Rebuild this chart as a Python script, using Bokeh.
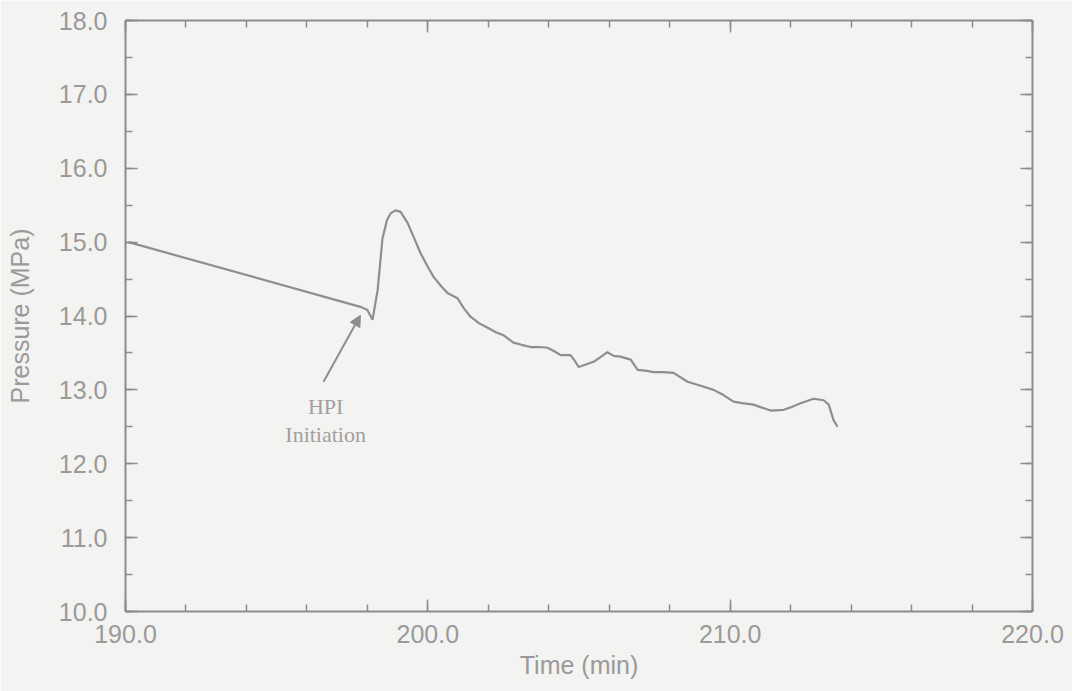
from bokeh.plotting import figure
from bokeh.models import (LinearAxis, FixedTicker, PrintfTickFormatter, Range1d,
                          Arrow, NormalHead, Label)
from bokeh.embed import file_html
from bokeh.resources import INLINE

# Data
time_min = [190.1, 197.8, 198.0, 198.17, 198.34, 198.50, 198.65, 198.77, 198.93,
            199.10, 199.33, 199.55, 199.76, 199.98, 200.19, 200.45, 200.65, 200.98,
            201.20, 201.41, 201.70, 201.98, 202.25, 202.50, 202.83, 203.10, 203.40,
            203.70, 203.96, 204.20, 204.39, 204.72, 204.85, 204.99, 205.20, 205.48,
            205.70, 205.94, 206.15, 206.37, 206.71, 206.94, 207.20, 207.47, 207.80,
            208.13, 208.59, 209.00, 209.45, 209.78, 210.11, 210.40, 210.77, 211.05,
            211.34, 211.77, 212.05, 212.33, 212.76, 213.09, 213.26, 213.42, 213.55]
pressure_mpa = [15.00, 14.12, 14.08, 13.95, 14.35, 15.05, 15.30, 15.39, 15.43,
                15.41, 15.26, 15.05, 14.85, 14.68, 14.53, 14.40, 14.31, 14.24,
                14.10, 13.99, 13.90, 13.84, 13.78, 13.74, 13.64, 13.61, 13.58,
                13.58, 13.57, 13.52, 13.47, 13.47, 13.40, 13.31, 13.34, 13.38,
                13.44, 13.51, 13.46, 13.45, 13.41, 13.27, 13.26, 13.24, 13.24,
                13.23, 13.11, 13.06, 13.00, 12.93, 12.84, 12.82, 12.80, 12.76,
                12.72, 12.73, 12.77, 12.82, 12.88, 12.86, 12.80, 12.59, 12.50]

x_major = [190, 200, 210, 220]
x_minor = list(range(190, 221, 2))
y_major = [10, 11, 12, 13, 14, 15, 16, 17, 18]
y_minor = [10 + 0.5 * i for i in range(17)]

annotation_text = ["HPI", "Initiation"]
annotation_x = 196.62
annotation_y = [12.77, 12.39]
arrow_tail = (196.55, 13.11)
arrow_head = (197.77, 14.01)

BG = "#f3f3f1"
AX = "#8c8c8c"
TXT = "#9a9a9a"
LINE = "#8e8e8e"

p = figure(width=1072, height=691, output_backend="svg", toolbar_location=None,
           x_range=Range1d(190, 220), y_range=Range1d(10, 18),
           x_axis_location=None, y_axis_location=None,
           min_border_left=125, min_border_right=40, min_border_top=20,
           min_border_bottom=80)
p.background_fill_color = BG
p.border_fill_color = BG
p.outline_line_color = None
p.grid.visible = False


def style(ax):
    ax.axis_line_color = AX
    ax.axis_line_width = 2
    ax.major_tick_line_color = AX
    ax.minor_tick_line_color = AX
    ax.major_tick_line_width = 1.5
    ax.minor_tick_line_width = 1.5
    ax.major_tick_in = 12
    ax.major_tick_out = 0
    ax.minor_tick_in = 7
    ax.minor_tick_out = 0
    ax.major_label_text_font = "Liberation Sans"
    ax.major_label_text_color = TXT
    ax.major_label_text_font_size = "25px"
    ax.axis_label_text_font = "Liberation Sans"
    ax.axis_label_text_color = TXT
    ax.axis_label_text_font_style = "normal"
    ax.axis_label_text_font_size = "25px"


def mirror(ax, minor):
    # unlabeled mirror axis carrying the short ticks
    ax.ticker = FixedTicker(ticks=[], minor_ticks=minor)
    ax.axis_line_color = AX
    ax.axis_line_width = 2
    ax.minor_tick_line_color = AX
    ax.minor_tick_line_width = 1.5
    ax.minor_tick_in = 7
    ax.minor_tick_out = 0
    ax.major_tick_in = 0
    ax.major_tick_out = 0
    ax.major_label_standoff = 0
    ax.axis_label_standoff = 0


def mirror_major(ax, major):
    # unlabeled mirror axis carrying the long ticks
    ax.ticker = FixedTicker(ticks=[], minor_ticks=major)
    ax.axis_line_color = None
    ax.minor_tick_line_color = AX
    ax.minor_tick_line_width = 1.5
    ax.minor_tick_in = 12
    ax.minor_tick_out = 0
    ax.major_tick_in = 0
    ax.major_tick_out = 0
    ax.major_label_standoff = 0
    ax.axis_label_standoff = 0


fmt = PrintfTickFormatter(format="%.1f")

xb = LinearAxis(ticker=FixedTicker(ticks=x_major, minor_ticks=x_minor),
                formatter=fmt, axis_label="Time (min)")
style(xb)
xb.major_label_standoff = 13
xb.axis_label_standoff = 5
p.add_layout(xb, "below")

yl = LinearAxis(ticker=FixedTicker(ticks=y_major, minor_ticks=y_minor),
                formatter=fmt, axis_label="Pressure (MPa)")
style(yl)
yl.major_label_standoff = 18
yl.axis_label_standoff = 22
p.add_layout(yl, "left")

xt = LinearAxis()
mirror(xt, x_minor)
p.add_layout(xt, "above")
xt2 = LinearAxis()
mirror_major(xt2, x_major)
p.add_layout(xt2, "above")

yr = LinearAxis()
mirror(yr, y_minor)
p.add_layout(yr, "right")
yr2 = LinearAxis()
mirror_major(yr2, y_major)
p.add_layout(yr2, "right")

p.line(time_min, pressure_mpa, line_color=LINE, line_width=2.2)

p.add_layout(Arrow(x_start=arrow_tail[0], y_start=arrow_tail[1],
                   x_end=arrow_head[0], y_end=arrow_head[1],
                   line_color=LINE, line_width=2,
                   end=NormalHead(size=11, fill_color=LINE, line_color=LINE)))

for txt, yy in zip(annotation_text, annotation_y):
    p.add_layout(Label(x=annotation_x, y=yy, text=txt, text_align="center",
                       text_baseline="middle", text_font="Liberation Serif",
                       text_font_size="22px", text_color="#a0a0a0"))

open("out.html", "w").write(file_html(p, INLINE))
